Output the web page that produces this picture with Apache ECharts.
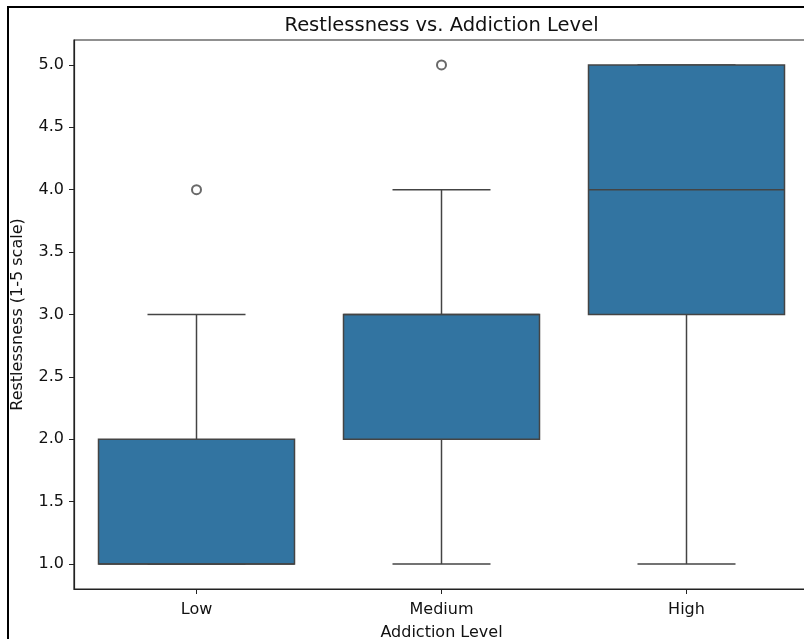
<!DOCTYPE html>
<html>
<head>
<meta charset="utf-8">
<script src="https://cdn.jsdelivr.net/npm/echarts@6/dist/echarts.min.js"></script>
<style>
  html, body { margin: 0; padding: 0; background: #fff; overflow: hidden; width: 804px; height: 639px; }
  #frame { position: absolute; left: 7px; top: 6px; width: 900px; height: 700px; border: 2px solid #000; }
  #chart { position: absolute; left: 0; top: 0; width: 883px; height: 639px; }
</style>
</head>
<body>
<div id="frame"></div>
<div id="chart"></div>
<script>
// addiction levels on the x axis
const categories = ["Low", "Medium", "High"];
// five-number summaries: [min, q1, median, q3, max]
const lowStats = [1, 1, 1, 2, 3];
const mediumStats = [1, 2, 3, 3, 4];
const highStats = [1, 3, 4, 5, 5];
// outlier points: [category index, value]
const outliers = [[0, 4], [1, 5]];
const yTicks = [1.0, 1.5, 2.0, 2.5, 3.0, 3.5, 4.0, 4.5, 5.0];

const boxData = [lowStats, mediumStats, highStats].map((s, i) => [i].concat(s));

const textColor = "#111";
const lineColor = "#444";
const boxColor = "#3274a1";
const font = "DejaVu Sans";

function renderBox(params, api) {
  const x = api.value(0);
  const lo = api.coord([x, api.value(1)]);
  const q1 = api.coord([x, api.value(2)]);
  const med = api.coord([x, api.value(3)]);
  const q3 = api.coord([x, api.value(4)]);
  const hi = api.coord([x, api.value(5)]);
  const band = api.size([1, 0])[0];
  const bw = band * 0.8;
  const cw = bw / 2;
  const cx = lo[0];
  const ls = { stroke: lineColor, lineWidth: 1.5 };
  return {
    type: "group",
    children: [
      { type: "line", shape: { x1: cx, y1: q3[1], x2: cx, y2: hi[1] }, style: ls },
      { type: "line", shape: { x1: cx, y1: q1[1], x2: cx, y2: lo[1] }, style: ls },
      { type: "line", shape: { x1: cx - cw / 2, y1: hi[1], x2: cx + cw / 2, y2: hi[1] }, style: ls },
      { type: "line", shape: { x1: cx - cw / 2, y1: lo[1], x2: cx + cw / 2, y2: lo[1] }, style: ls },
      {
        type: "rect",
        shape: { x: cx - bw / 2, y: q3[1], width: bw, height: q1[1] - q3[1] },
        style: { fill: boxColor, stroke: lineColor, lineWidth: 1.5 }
      },
      { type: "line", shape: { x1: cx - bw / 2, y1: med[1], x2: cx + bw / 2, y2: med[1] }, style: ls }
    ]
  };
}

const chart = echarts.init(document.getElementById("chart"), null, { renderer: "canvas" });

const option = {
  animation: false,
  title: {
    text: "Restlessness vs. Addiction Level",
    left: "center",
    top: 11,
    textStyle: { fontFamily: font, fontSize: 19.5, fontWeight: "normal", color: textColor }
  },
  grid: {
    left: 74, right: 74, top: 40, bottom: 50,
    outerBoundsMode: "none",
    containLabel: false,
    show: true, borderColor: "#222", borderWidth: 1.2, backgroundColor: "transparent"
  },
  xAxis: {
    type: "category",
    data: categories,
    boundaryGap: true,
    name: "Addiction Level",
    nameLocation: "middle",
    nameGap: 36,
    nameTextStyle: { fontFamily: font, fontSize: 16, color: textColor },
    axisLine: { show: true, lineStyle: { color: "#222", width: 1.2 } },
    axisTick: { show: true, alignWithLabel: true, length: 5, lineStyle: { color: "#222" } },
    axisLabel: { fontFamily: font, fontSize: 16, color: textColor, margin: 13 },
    splitLine: { show: false }
  },
  yAxis: {
    type: "value",
    min: 0.8,
    max: 5.2,
    name: "Restlessness (1-5 scale)",
    nameLocation: "middle",
    nameGap: 48,
    nameTextStyle: { fontFamily: font, fontSize: 16, color: textColor },
    axisLine: { show: true, lineStyle: { color: "#222", width: 1.2 } },
    axisTick: { show: true, length: 5, customValues: yTicks, lineStyle: { color: "#222" } },
    axisLabel: {
      fontFamily: font, fontSize: 16, color: textColor, margin: 10,
      customValues: yTicks,
      formatter: v => Number(v).toFixed(1)
    },
    splitLine: { show: false }
  },
  series: [
    {
      type: "custom",
      renderItem: renderBox,
      data: boxData,
      encode: { x: 0, y: [1, 2, 3, 4, 5] },
      z: 2
    },
    {
      type: "scatter",
      data: outliers,
      symbol: "emptyCircle",
      symbolSize: 9,
      itemStyle: { color: lineColor, borderColor: lineColor, borderWidth: 1.5 },
      z: 3
    }
  ]
};

chart.setOption(option);
</script>
</body>
</html>
